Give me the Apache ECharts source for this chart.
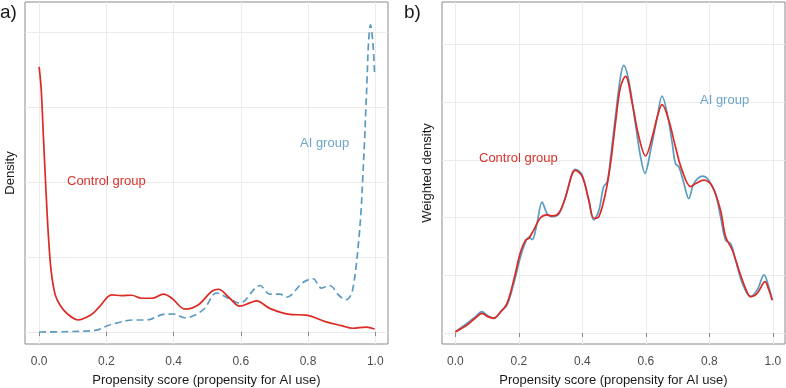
<!DOCTYPE html>
<html>
<head>
<meta charset="utf-8">
<script src="https://cdn.jsdelivr.net/npm/echarts@6/dist/echarts.min.js"></script>
<style>
html,body{margin:0;padding:0;background:#fff;}
#chart{width:786px;height:388px;}
</style>
</head>
<body>
<div id="chart"></div>
<script>
// ---------- data ----------
const xTicks = [0, 0.2, 0.4, 0.6, 0.8, 1.0];
const leftYGrid = [0, 2, 4, 6, 8];
const rightYGrid = [0, 1, 2, 3, 4, 5];

// Panel a) unweighted density, Control group
const leftControlX = [0.000, 0.006, 0.013, 0.020, 0.028, 0.036, 0.048, 0.062, 0.082, 0.117, 0.143, 0.162, 0.181, 0.216, 0.245, 0.275, 0.305, 0.335, 0.370, 0.395, 0.434, 0.473, 0.513, 0.533, 0.567, 0.597, 0.625, 0.647, 0.686, 0.745, 0.795, 0.854, 0.900, 0.933, 0.973, 0.998];
const leftControlY = [7.07, 6.50, 5.17, 3.84, 2.51, 1.61, 0.99, 0.72, 0.50, 0.32, 0.40, 0.51, 0.69, 0.99, 0.97, 0.98, 0.90, 0.90, 1.01, 0.90, 0.61, 0.72, 1.08, 1.14, 0.90, 0.69, 0.77, 0.83, 0.63, 0.47, 0.45, 0.27, 0.17, 0.10, 0.13, 0.08];

// Panel a) unweighted density, AI group
const leftAIX = [0.000, 0.082, 0.171, 0.201, 0.226, 0.280, 0.320, 0.370, 0.400, 0.434, 0.488, 0.528, 0.563, 0.597, 0.657, 0.686, 0.716, 0.736, 0.785, 0.815, 0.840, 0.864, 0.894, 0.913, 0.928, 0.935, 0.943, 0.951, 0.958, 0.963, 0.968, 0.972, 0.976, 0.980, 0.986, 0.993, 0.998];
const leftAIY = [0.00, 0.01, 0.05, 0.16, 0.23, 0.32, 0.32, 0.47, 0.48, 0.38, 0.59, 1.04, 0.90, 0.77, 1.24, 1.01, 1.01, 0.93, 1.32, 1.42, 1.17, 1.24, 0.96, 0.86, 0.99, 1.23, 1.74, 2.45, 3.25, 4.13, 5.04, 5.92, 6.80, 7.71, 8.19, 7.71, 6.91];

// Panel b) weighted density, Control group
const rightControlX = [0.000, 0.037, 0.063, 0.084, 0.104, 0.121, 0.142, 0.163, 0.184, 0.205, 0.221, 0.231, 0.247, 0.268, 0.289, 0.305, 0.326, 0.347, 0.368, 0.378, 0.399, 0.420, 0.436, 0.452, 0.473, 0.488, 0.504, 0.520, 0.536, 0.557, 0.578, 0.599, 0.620, 0.636, 0.651, 0.672, 0.693, 0.714, 0.741, 0.756, 0.783, 0.809, 0.835, 0.851, 0.872, 0.893, 0.914, 0.930, 0.951, 0.975, 0.987, 0.998];
const rightControlY = [0.02, 0.14, 0.26, 0.34, 0.28, 0.26, 0.36, 0.52, 0.92, 1.40, 1.61, 1.64, 1.79, 2.00, 2.05, 2.03, 2.08, 2.36, 2.76, 2.82, 2.72, 2.31, 1.99, 2.02, 2.43, 2.91, 3.63, 4.27, 4.45, 3.98, 3.40, 3.07, 3.40, 3.75, 3.96, 3.69, 3.23, 2.82, 2.54, 2.59, 2.65, 2.54, 2.13, 1.67, 1.44, 1.09, 0.77, 0.63, 0.69, 0.89, 0.75, 0.57];

// Panel b) weighted density, AI group
const rightAIX = [0.000, 0.037, 0.063, 0.084, 0.100, 0.121, 0.142, 0.163, 0.184, 0.205, 0.221, 0.231, 0.242, 0.257, 0.273, 0.289, 0.305, 0.326, 0.347, 0.368, 0.378, 0.399, 0.420, 0.436, 0.452, 0.467, 0.478, 0.488, 0.504, 0.520, 0.530, 0.546, 0.567, 0.583, 0.597, 0.615, 0.636, 0.651, 0.667, 0.683, 0.693, 0.704, 0.720, 0.735, 0.751, 0.778, 0.798, 0.819, 0.835, 0.851, 0.867, 0.882, 0.904, 0.930, 0.951, 0.972, 0.987, 0.998];
const rightAIY = [0.02, 0.17, 0.28, 0.37, 0.31, 0.25, 0.37, 0.49, 0.86, 1.32, 1.58, 1.66, 1.62, 1.90, 2.27, 2.07, 2.02, 2.07, 2.36, 2.77, 2.84, 2.74, 2.31, 1.96, 2.13, 2.54, 2.62, 3.00, 3.75, 4.44, 4.64, 4.38, 3.63, 3.06, 2.77, 3.17, 3.75, 4.11, 3.81, 3.29, 2.94, 2.88, 2.59, 2.33, 2.59, 2.72, 2.65, 2.42, 2.02, 1.61, 1.55, 1.27, 0.86, 0.63, 0.75, 1.01, 0.80, 0.57];

// ---------- styling ----------
const RED = '#dc2a24';
const BLUE = '#5b9bc0';
const RED_TXT = '#d8332c';
const BLUE_TXT = '#6da6ca';
const GRIDC = '#ebebeb';
const BORDER = '#8a8a8a';
const FONT = 'Liberation Sans, Arial, sans-serif';

function zip(xs, ys) { return xs.map((x, i) => [x, ys[i]]); }

function xAxisCfg(gridIndex) {
  return {
    type: 'value', gridIndex: gridIndex,
    min: -0.042, max: 1.038,
    name: 'Propensity score (propensity for AI use)',
    nameLocation: 'middle', nameGap: 30,
    nameTextStyle: { fontSize: 13, color: '#1a1a1a', fontFamily: FONT },
    axisLine: { show: false },
    axisTick: { show: true, length: 4, customValues: xTicks, lineStyle: { color: BORDER } },
    axisLabel: { customValues: xTicks, margin: 12, fontSize: 12, color: '#4d4d4d', fontFamily: FONT,
      formatter: v => v.toFixed(1) },
    splitLine: { show: true, lineStyle: { color: GRIDC, width: 1 } }
  };
}
function yAxisCfg(gridIndex, name, min, max, ticks, gap) {
  return {
    type: 'value', gridIndex: gridIndex, min: min, max: max,
    name: name, nameLocation: 'middle', nameGap: gap,
    nameTextStyle: { fontSize: 13, color: '#1a1a1a', fontFamily: FONT },
    axisLine: { show: false },
    axisTick: { show: false, customValues: ticks },
    axisLabel: { show: false, customValues: ticks },
    splitLine: { show: true, lineStyle: { color: GRIDC, width: 1 } }
  };
}
function lineSeries(xi, yi, data, color, dashed) {
  return {
    type: 'line', xAxisIndex: xi, yAxisIndex: yi, data: data,
    smooth: 0.35, showSymbol: false, symbol: 'none', clip: false,
    lineStyle: { color: color, width: 1.7, type: dashed ? [7, 4] : 'solid' },
    z: dashed ? 3 : 4
  };
}

const chart = echarts.init(document.getElementById('chart'), null, { renderer: 'canvas' });
chart.setOption({
  animation: false,
  backgroundColor: '#ffffff',
  grid: [
    { left: 25, top: 2, width: 363, height: 342, show: true, borderColor: BORDER, borderWidth: 1, backgroundColor: 'transparent', containLabel: false, outerBoundsMode: 'none' },
    { left: 442, top: 2, width: 343, height: 342, show: true, borderColor: BORDER, borderWidth: 1, backgroundColor: 'transparent', containLabel: false, outerBoundsMode: 'none' }
  ],
  xAxis: [xAxisCfg(0), xAxisCfg(1)],
  yAxis: [
    yAxisCfg(0, 'Density', -0.32, 8.8, leftYGrid, 8),
    yAxisCfg(1, 'Weighted density', -0.19, 5.74, rightYGrid, 8)
  ],
  series: [
    lineSeries(0, 0, zip(leftAIX, leftAIY), BLUE, true),
    lineSeries(0, 0, zip(leftControlX, leftControlY), RED, false),
    lineSeries(1, 1, zip(rightAIX, rightAIY), BLUE, false),
    lineSeries(1, 1, zip(rightControlX, rightControlY), RED, false)
  ],
  graphic: [
    { type: 'text', z: 100, left: 0, top: 3, style: { text: 'a)', fontSize: 19, fill: '#1a1a1a', fontFamily: FONT } },
    { type: 'text', z: 100, left: 404, top: 3, style: { text: 'b)', fontSize: 19, fill: '#1a1a1a', fontFamily: FONT } },
    { type: 'text', z: 100, left: 67, top: 175, style: { text: 'Control group', fontSize: 13, fill: RED_TXT, fontFamily: FONT } },
    { type: 'text', z: 100, left: 300, top: 137, style: { text: 'AI group', fontSize: 13, fill: BLUE_TXT, fontFamily: FONT } },
    { type: 'text', z: 100, left: 479, top: 152, style: { text: 'Control group', fontSize: 13, fill: RED_TXT, fontFamily: FONT } },
    { type: 'text', z: 100, left: 700, top: 94, style: { text: 'AI group', fontSize: 13, fill: BLUE_TXT, fontFamily: FONT } }
  ]
});
</script>
</body>
</html>
